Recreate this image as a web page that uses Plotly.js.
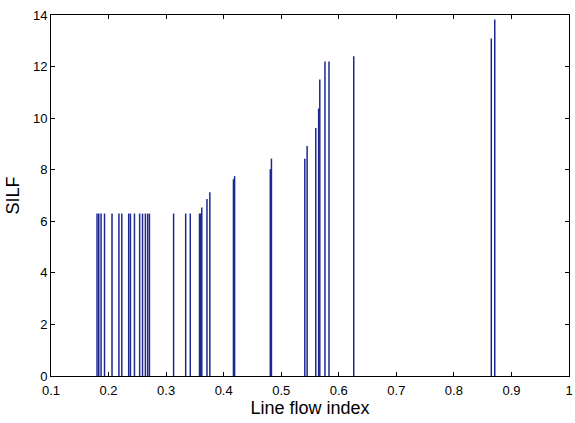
<!DOCTYPE html>
<html>
<head>
<meta charset="utf-8">
<script src="https://cdn.plot.ly/plotly-3.0.1.min.js"></script>
<style>html,body{margin:0;padding:0;background:#fff}#chart{width:575px;height:423px}</style>
</head>
<body>
<div id="chart"></div>
<script>
const lineFlowIndex = [0.180, 0.183, 0.187, 0.193, 0.206, 0.218, 0.223, 0.235, 0.238, 0.245,
  0.254, 0.259, 0.264, 0.268, 0.271, 0.313, 0.334, 0.342, 0.358, 0.360, 0.362, 0.371, 0.376,
  0.417, 0.419, 0.481, 0.483, 0.541, 0.545, 0.560, 0.565, 0.567, 0.576, 0.583, 0.626, 0.865, 0.871];
const silf = [6.3, 6.3, 6.3, 6.3, 6.3, 6.3, 6.3, 6.3, 6.3, 6.3,
  6.3, 6.3, 6.3, 6.3, 6.3, 6.3, 6.3, 6.3, 6.3, 6.3, 6.53, 6.86, 7.13,
  7.63, 7.75, 8.02, 8.43, 8.43, 8.92, 9.62, 10.37, 11.5, 12.2, 12.2, 12.4, 13.09, 13.83];
const xTickVals = [0.1, 0.2, 0.3, 0.4, 0.5, 0.6, 0.7, 0.8, 0.9, 1.0];
const xTickText = ['0.1', '0.2', '0.3', '0.4', '0.5', '0.6', '0.7', '0.8', '0.9', '1'];
const yTickVals = [0, 2, 4, 6, 8, 10, 12, 14];

const trace = {
  type: 'bar',
  x: lineFlowIndex,
  y: silf,
  width: lineFlowIndex.map(() => 0.0026),
  marker: {color: 'rgb(28,40,145)', line: {width: 0}},
  hoverinfo: 'x+y'
};

const layout = {
  width: 575, height: 423,
  margin: {l: 51, r: 6, t: 15, b: 47, pad: 0},
  paper_bgcolor: '#fff', plot_bgcolor: '#fff',
  showlegend: false,
  barmode: 'overlay',
  font: {family: 'Liberation Sans, Arial, sans-serif', size: 13, color: '#000'},
  xaxis: {
    range: [0.1, 1.0], tickvals: xTickVals, ticktext: xTickText,
    ticks: 'inside', ticklen: 4, tickcolor: '#000', tickwidth: 1,
    showline: true, linecolor: '#000', linewidth: 1, mirror: 'ticks',
    showgrid: false, zeroline: false,
    tickfont: {size: 13}, ticklabelstandoff: 2,
    title: {text: 'Line flow index', font: {size: 18}, standoff: 4}
  },
  yaxis: {
    range: [0, 14], tickvals: yTickVals,
    ticks: 'inside', ticklen: 4, tickcolor: '#000', tickwidth: 1,
    showline: true, linecolor: '#000', linewidth: 1, mirror: 'ticks',
    showgrid: false, zeroline: false,
    tickfont: {size: 13},
    title: {text: 'SILF', font: {size: 18}, standoff: 8}
  }
};

Plotly.newPlot('chart', [trace], layout, {staticPlot: true, displayModeBar: false});
</script>
</body>
</html>
